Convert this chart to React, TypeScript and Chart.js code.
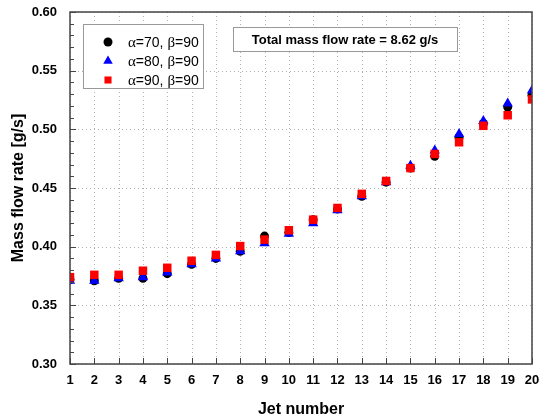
import React, { useEffect, useRef } from "react";
import { Chart, registerables } from "chart.js";

Chart.register(...registerables);

const jets = [1, 2, 3, 4, 5, 6, 7, 8, 9, 10, 11, 12, 13, 14, 15, 16, 17, 18, 19, 20];
const seriesA70 = [0.372, 0.371, 0.373, 0.373, 0.377, 0.385, 0.390, 0.396, 0.409, 0.412, 0.423, 0.432, 0.443, 0.455, 0.467, 0.477, 0.493, 0.505, 0.519, 0.529];
const seriesA80 = [0.371, 0.371, 0.373, 0.374, 0.378, 0.385, 0.390, 0.396, 0.403, 0.411, 0.420, 0.431, 0.443, 0.455, 0.469, 0.482, 0.496, 0.507, 0.522, 0.533];
const seriesA90 = [0.374, 0.376, 0.376, 0.3795, 0.382, 0.388, 0.393, 0.4005, 0.406, 0.414, 0.423, 0.433, 0.445, 0.456, 0.467, 0.479, 0.489, 0.503, 0.512, 0.5255];
const legendLabels = [
  ["α", "=70, ", "β", "=90"],
  ["α", "=80, ", "β", "=90"],
  ["α", "=90, ", "β", "=90"],
];
const annotationText = "Total mass flow rate = 8.62 g/s";
const yTickValues = [0.3, 0.35, 0.4, 0.45, 0.5, 0.55, 0.6];

const SANS = "'Liberation Sans', Arial, sans-serif";
const SERIF = "'Liberation Serif', 'Times New Roman', serif";

function drawMarker(ctx: CanvasRenderingContext2D, style: string, cx: number, cy: number, r: number) {
  ctx.beginPath();
  if (style === "circle") {
    ctx.arc(cx, cy, r, 0, Math.PI * 2);
  } else if (style === "triangle") {
    ctx.moveTo(cx, cy - r);
    ctx.lineTo(cx + r * 0.866, cy + r * 0.5);
    ctx.lineTo(cx - r * 0.866, cy + r * 0.5);
    ctx.closePath();
  } else {
    const s = r * Math.SQRT1_2;
    ctx.rect(cx - s, cy - s, 2 * s, 2 * s);
  }
  ctx.fill();
}

const decorPlugin = {
  id: "decor",
  beforeDatasetsDraw(chart: any) {
    const { ctx, chartArea: a, scales } = chart;
    const x = scales.x, y = scales.y;
    ctx.save();
    ctx.strokeStyle = "#b0b0b0";
    ctx.lineWidth = 1;
    ctx.setLineDash([1, 3]);
    for (const j of jets) {
      const px = Math.round(x.getPixelForValue(j)) + 0.5;
      ctx.beginPath();
      ctx.moveTo(px, a.top);
      ctx.lineTo(px, a.bottom);
      ctx.stroke();
    }
    for (const v of yTickValues) {
      const py = Math.round(y.getPixelForValue(v)) + 0.5;
      ctx.beginPath();
      ctx.moveTo(a.left, py);
      ctx.lineTo(a.right, py);
      ctx.stroke();
    }
    ctx.restore();
  },
  afterDatasetsDraw(chart: any) {
    const { ctx, chartArea: a, scales } = chart;
    const x = scales.x, y = scales.y;
    ctx.save();
    ctx.strokeStyle = "#444";
    ctx.lineWidth = 1.5;
    ctx.strokeRect(a.left, a.top, a.right - a.left, a.bottom - a.top);
    ctx.lineWidth = 1;
    for (let i = 0; i <= 30; i++) {
      const v = 0.3 + i * 0.01;
      const py = Math.round(y.getPixelForValue(v)) + 0.5;
      const len = i % 5 === 0 ? 6 : 4;
      ctx.beginPath();
      ctx.moveTo(a.left, py);
      ctx.lineTo(a.left + len, py);
      ctx.stroke();
    }
    for (const j of jets) {
      const px = Math.round(x.getPixelForValue(j)) + 0.5;
      ctx.beginPath();
      ctx.moveTo(px, a.bottom);
      ctx.lineTo(px, a.bottom - 6);
      ctx.stroke();
    }
    // legend box
    const lx = 83, ly = 24, lw = 120, lh = 64;
    ctx.fillStyle = "#fff";
    ctx.fillRect(lx, ly, lw, lh);
    ctx.strokeStyle = "#999";
    ctx.strokeRect(lx + 0.5, ly + 0.5, lw, lh);
    const colors = ["#000000", "#0000ff", "#ff0000"];
    const styles = ["circle", "triangle", "rect"];
    const radii = [4.5, 5.5, 5];
    for (let i = 0; i < 3; i++) {
      const cy = 42 + i * 19;
      ctx.fillStyle = colors[i];
      drawMarker(ctx, styles[i], 108, cy, radii[i]);
      let tx = 128;
      ctx.fillStyle = "#000";
      ctx.textBaseline = "middle";
      ctx.textAlign = "left";
      legendLabels[i].forEach((seg, k) => {
        ctx.font = k % 2 === 0 ? `15px ${SERIF}` : `14px ${SANS}`;
        ctx.fillText(seg, tx, cy + 1);
        tx += ctx.measureText(seg).width;
      });
    }
    // annotation box
    const bx = 233, by = 27, bw = 224, bh = 24;
    ctx.fillStyle = "#fff";
    ctx.fillRect(bx, by, bw, bh);
    ctx.strokeStyle = "#999";
    ctx.strokeRect(bx + 0.5, by + 0.5, bw, bh);
    ctx.fillStyle = "#000";
    ctx.font = `bold 13px ${SANS}`;
    ctx.textAlign = "center";
    ctx.textBaseline = "middle";
    ctx.fillText(annotationText, bx + bw / 2, by + bh / 2 + 1);
    ctx.restore();
  },
};

export default function App() {
  const ref = useRef<HTMLCanvasElement>(null);
  useEffect(() => {
    document.body.style.margin = "0";
    const toPts = (arr: number[]) => jets.map((j, i) => ({ x: j, y: arr[i] }));
    const chart = new Chart(ref.current!, {
      type: "scatter",
      data: {
        datasets: [
          {
            label: "α=70, β=90",
            data: toPts(seriesA70),
            backgroundColor: "#000000",
            borderColor: "#000000",
            pointStyle: "circle",
            pointRadius: 4.5,
            borderWidth: 0,
            order: 2,
          },
          {
            label: "α=80, β=90",
            data: toPts(seriesA80),
            backgroundColor: "#0000ff",
            borderColor: "#0000ff",
            pointStyle: "triangle",
            pointRadius: 6,
            borderWidth: 0,
            order: 1,
          },
          {
            label: "α=90, β=90",
            data: toPts(seriesA90),
            backgroundColor: "#ff0000",
            borderColor: "#ff0000",
            pointStyle: "rect",
            pointRadius: 6,
            borderWidth: 0,
            order: 0,
          },
        ],
      },
      options: {
        responsive: false,
        animation: false,
        layout: { padding: { left: 0, right: 9, top: 12, bottom: 0 } },
        plugins: { legend: { display: false }, tooltip: { enabled: false } },
        scales: {
          x: {
            type: "linear",
            min: 1,
            max: 20,
            afterBuildTicks: (s: any) => {
              s.ticks = jets.map((v) => ({ value: v }));
            },
            afterFit: (s: any) => {
              s.height = 55;
              s.paddingLeft = 0;
              s.paddingRight = 0;
            },
            grid: { display: false, drawTicks: false },
            border: { display: false },
            ticks: {
              color: "#000",
              font: { family: SANS, size: 13, weight: "bold" },
              padding: 9,
              maxRotation: 0,
              autoSkip: false,
            },
            title: {
              display: true,
              text: "Jet number",
              color: "#000",
              font: { family: SANS, size: 16, weight: "bold" },
              padding: { top: 6, bottom: 0 },
            },
          },
          y: {
            min: 0.3,
            max: 0.6,
            afterBuildTicks: (s: any) => {
              s.ticks = yTickValues.map((v) => ({ value: v }));
            },
            afterFit: (s: any) => {
              s.width = 70;
              s.paddingTop = 0;
              s.paddingBottom = 0;
            },
            grid: { display: false, drawTicks: false },
            border: { display: false },
            ticks: {
              color: "#000",
              font: { family: SANS, size: 13, weight: "bold" },
              padding: 13,
              callback: (v: any) => Number(v).toFixed(2),
            },
            title: {
              display: true,
              text: "Mass flow rate [g/s]",
              color: "#000",
              font: { family: SANS, size: 16, weight: "bold" },
              padding: { top: 9, bottom: 0 },
            },
          },
        },
      },
      plugins: [decorPlugin],
    } as any);
    return () => chart.destroy();
  }, []);
  return (
    <div style={{ width: 541, height: 419, background: "#fff" }}>
      <canvas ref={ref} width={541} height={419} style={{ display: "block" }} />
    </div>
  );
}
